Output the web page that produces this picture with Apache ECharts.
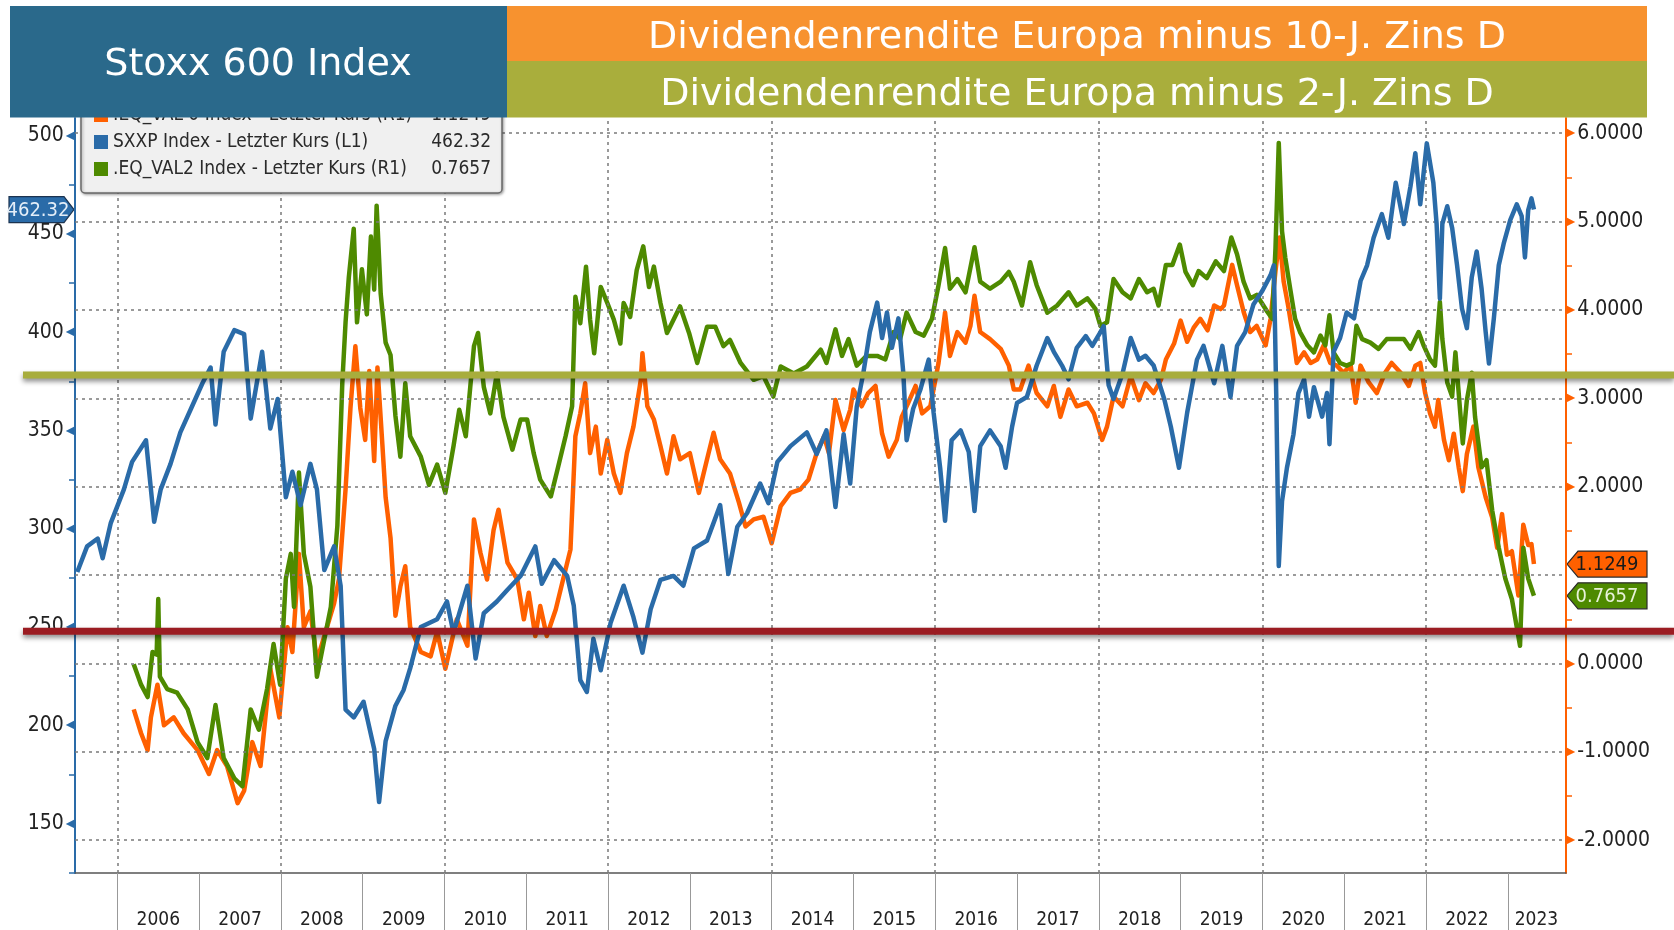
<!DOCTYPE html>
<html>
<head>
<meta charset="utf-8">
<title>Stoxx 600 Index - Dividendenrendite Europa</title>
<script src="https://cdn.jsdelivr.net/npm/echarts@6/dist/echarts.min.js"></script>
<style>
  html, body { margin: 0; padding: 0; background: #fff; }
  #chart { width: 1674px; height: 930px; }
</style>
</head>
<body>
<div id="chart"></div>
<script>
// SXXP Index (left axis), [decimal year, value]
var sxxp = [
  [2005.51,278],[2005.63,291],[2005.76,295],[2005.82,285],[2005.92,303],
  [2006.08,320],[2006.18,334],[2006.35,345],[2006.45,303.5],[2006.53,320],[2006.65,333],[2006.77,349],[2006.90,361],
  [2007.04,374],[2007.14,382],[2007.20,353],[2007.30,390],[2007.43,401],[2007.55,399],[2007.63,356],[2007.77,390],[2007.87,351],[2007.96,366],
  [2008.06,316],[2008.14,329],[2008.24,312],[2008.36,333],[2008.44,320],[2008.53,279],[2008.65,291],[2008.73,271],[2008.79,208],[2008.89,204],
  [2009.01,212],[2009.14,188],[2009.20,161],[2009.28,192],[2009.40,210],[2009.50,218],[2009.58,229],[2009.71,250],[2009.91,254],
  [2010.03,263],[2010.11,247],[2010.28,271],[2010.38,234],[2010.48,257],[2010.64,263],[2010.77,269],[2010.93,276],
  [2011.11,291],[2011.19,272],[2011.34,284],[2011.50,276],[2011.58,261],[2011.66,223],[2011.74,217],[2011.82,244],[2011.91,228],
  [2012.03,252],[2012.19,271],[2012.31,255],[2012.42,237],[2012.52,259],[2012.64,274],[2012.80,276],[2012.92,271],
  [2013.05,290],[2013.21,294],[2013.37,312],[2013.47,277],[2013.58,301],[2013.70,308],[2013.86,323],[2013.96,313],
  [2014.07,334],[2014.23,342],[2014.43,349],[2014.55,338],[2014.67,350],[2014.78,311],[2014.88,348],[2014.96,323],
  [2015.04,362],[2015.12,379],[2015.20,400],[2015.29,415],[2015.35,397],[2015.41,410],[2015.47,392],[2015.55,407],[2015.61,379],
  [2015.65,345],[2015.73,361],[2015.82,371],[2015.92,386],[2015.98,359],
  [2016.06,331],[2016.12,304],[2016.20,345],[2016.31,350],[2016.41,339],[2016.48,309],[2016.55,342],[2016.67,350],[2016.80,342],
  [2016.86,331],[2016.94,352],
  [2017.00,364],[2017.12,367],[2017.24,383],[2017.37,397],[2017.45,390],[2017.55,383],[2017.63,376],[2017.73,392],[2017.84,398],[2017.92,393],
  [2018.02,400],[2018.06,403],[2018.12,373],[2018.18,366],[2018.29,379],[2018.39,397],[2018.49,386],[2018.57,388],[2018.67,383],
  [2018.80,366],[2018.88,352],[2018.98,331],
  [2019.08,359],[2019.20,386],[2019.28,393],[2019.41,374],[2019.51,393],[2019.61,367],[2019.69,393],[2019.79,400],[2019.89,414],
  [2020.00,421],[2020.10,429],[2020.14,434],[2020.17,366],[2020.20,281],[2020.24,314],[2020.30,331],[2020.38,348],[2020.44,369],
  [2020.51,376],[2020.57,357],[2020.63,372],[2020.73,357],[2020.79,369],[2020.82,343],[2020.87,390],[2020.95,397],
  [2021.03,410],[2021.12,407],[2021.20,426],[2021.28,434],[2021.36,448],[2021.46,460],[2021.54,448],[2021.63,476],[2021.73,455],
  [2021.81,474],[2021.87,491],[2021.93,465],
  [2022.01,496],[2022.09,476],[2022.13,455],[2022.17,417],[2022.20,455],[2022.26,464],[2022.32,453],[2022.38,434],[2022.44,412],
  [2022.50,402],[2022.56,428],[2022.62,441],[2022.68,422],[2022.73,400],[2022.77,384],[2022.83,407],[2022.89,434],[2022.95,445],
  [2023.03,457],[2023.11,465],[2023.17,459],[2023.21,438],[2023.25,462],[2023.29,468],[2023.32,462.32]
];

// .EQ_VAL 0 Index (right axis): dividend yield minus 10y Bund
var val10 = [
  [2006.20,-0.52],[2006.29,-0.79],[2006.37,-0.98],[2006.41,-0.61],[2006.49,-0.24],[2006.57,-0.70],[2006.69,-0.61],[2006.81,-0.79],[2006.98,-0.98],
  [2007.12,-1.25],[2007.22,-0.98],[2007.34,-1.16],[2007.47,-1.58],[2007.55,-1.44],[2007.65,-0.89],[2007.75,-1.16],[2007.87,-0.06],[2007.98,-0.61],
  [2008.08,0.41],[2008.14,0.13],[2008.22,1.24],[2008.28,0.41],[2008.36,0.59],[2008.44,0.03],[2008.53,0.31],[2008.65,0.68],[2008.71,0.96],
  [2008.79,1.97],[2008.85,2.89],[2008.91,3.59],[2008.97,2.89],
  [2009.03,2.53],[2009.08,3.31],[2009.14,2.29],[2009.18,3.35],[2009.24,2.48],[2009.28,1.88],[2009.34,1.42],[2009.40,0.54],[2009.46,0.87],
  [2009.52,1.10],[2009.58,0.41],[2009.71,0.13],[2009.83,0.08],[2009.91,0.36],
  [2010.01,-0.06],[2010.15,0.50],[2010.28,0.20],[2010.36,1.63],[2010.44,1.25],[2010.52,0.95],[2010.60,1.51],[2010.66,1.74],[2010.77,1.14],
  [2010.89,0.95],[2010.97,0.50],
  [2011.03,0.80],[2011.11,0.31],[2011.17,0.65],[2011.25,0.31],[2011.36,0.61],[2011.46,0.99],[2011.54,1.29],[2011.60,2.57],[2011.66,2.83],
  [2011.72,3.17],[2011.78,2.38],[2011.85,2.68],[2011.91,2.15],[2011.99,2.53],
  [2012.07,2.15],[2012.15,1.93],[2012.23,2.38],[2012.31,2.68],[2012.40,3.21],[2012.42,3.51],[2012.48,2.91],[2012.56,2.76],[2012.64,2.46],
  [2012.72,2.15],[2012.80,2.57],[2012.88,2.31],
  [2013.00,2.38],[2013.11,1.93],[2013.21,2.31],[2013.29,2.61],[2013.37,2.31],[2013.49,2.15],[2013.60,1.82],[2013.68,1.55],[2013.78,1.63],[2013.90,1.66],
  [2014.00,1.36],[2014.11,1.78],[2014.23,1.93],[2014.35,1.97],[2014.45,2.08],[2014.55,2.38],[2014.64,2.57],[2014.70,2.38],[2014.78,2.98],
  [2014.88,2.64],[2014.96,2.87],
  [2015.00,3.10],[2015.10,2.91],[2015.18,3.06],[2015.27,3.14],[2015.35,2.60],[2015.43,2.34],[2015.53,2.53],[2015.59,2.79],[2015.67,2.95],
  [2015.76,3.14],[2015.84,2.83],[2015.94,2.91],
  [2016.04,3.40],[2016.12,3.97],[2016.18,3.48],[2016.27,3.75],[2016.37,3.63],[2016.43,3.82],[2016.48,4.16],[2016.55,3.75],[2016.67,3.67],
  [2016.80,3.56],[2016.90,3.37],[2016.96,3.10],
  [2017.04,3.10],[2017.14,3.37],[2017.24,3.06],[2017.37,2.91],[2017.45,3.14],[2017.53,2.79],[2017.63,3.10],[2017.73,2.91],[2017.86,2.95],[2017.94,2.83],
  [2018.04,2.53],[2018.10,2.68],[2018.18,3.02],[2018.29,2.91],[2018.39,3.25],[2018.49,2.98],[2018.57,3.17],[2018.67,3.06],[2018.76,3.21],
  [2018.82,3.44],[2018.92,3.62],
  [2019.00,3.88],[2019.08,3.64],[2019.16,3.80],[2019.24,3.90],[2019.33,3.77],[2019.41,4.05],[2019.49,4.01],[2019.53,4.05],[2019.63,4.51],
  [2019.69,4.28],[2019.77,3.98],[2019.85,3.75],[2019.93,3.82],
  [2020.04,3.60],[2020.10,3.90],[2020.16,4.44],[2020.21,4.82],[2020.26,4.32],[2020.32,4.02],[2020.38,3.67],[2020.42,3.40],[2020.51,3.52],
  [2020.59,3.40],[2020.67,3.44],[2020.75,3.60],[2020.83,3.40],[2020.91,3.37],[2020.99,3.29],
  [2021.08,3.37],[2021.14,2.95],[2021.20,3.37],[2021.30,3.18],[2021.40,3.06],[2021.50,3.29],[2021.58,3.40],[2021.69,3.29],[2021.79,3.14],
  [2021.87,3.37],[2021.93,3.40],[2021.99,3.06],
  [2022.05,2.83],[2022.11,2.68],[2022.15,2.98],[2022.22,2.53],[2022.28,2.30],[2022.34,2.60],[2022.40,2.22],[2022.45,1.95],[2022.50,2.37],
  [2022.58,2.68],[2022.64,2.22],[2022.73,1.88],[2022.81,1.65],[2022.87,1.31],[2022.93,1.69],[2022.99,1.23],
  [2023.05,1.27],[2023.13,0.77],[2023.19,1.57],[2023.25,1.34],[2023.29,1.35],[2023.32,1.1249]
];

// .EQ_VAL2 Index (right axis): dividend yield minus 2y Bund
var val2 = [
  [2006.20,-0.01],[2006.29,-0.24],[2006.37,-0.38],[2006.43,0.13],[2006.48,0.10],[2006.50,0.73],[2006.52,-0.15],[2006.61,-0.29],
  [2006.73,-0.33],[2006.86,-0.52],[2006.98,-0.89],
  [2007.10,-1.07],[2007.20,-0.47],[2007.30,-1.07],[2007.43,-1.30],[2007.53,-1.39],[2007.63,-0.52],[2007.73,-0.75],[2007.83,-0.29],
  [2007.91,0.22],[2007.99,-0.24],
  [2008.06,0.96],[2008.12,1.24],[2008.16,0.64],[2008.22,2.16],[2008.28,1.24],[2008.36,0.87],[2008.44,-0.15],[2008.53,0.27],[2008.61,0.64],
  [2008.69,1.56],[2008.75,3.17],[2008.79,3.86],[2008.83,4.37],[2008.89,4.92],[2008.93,3.86],[2008.99,4.46],
  [2009.05,3.95],[2009.10,4.83],[2009.14,4.23],[2009.17,5.18],[2009.22,4.18],[2009.28,3.63],[2009.34,3.49],[2009.40,2.80],[2009.46,2.34],
  [2009.52,3.17],[2009.58,2.57],[2009.71,2.34],[2009.81,2.02],[2009.91,2.25],
  [2010.01,1.93],[2010.11,2.46],[2010.18,2.87],[2010.26,2.57],[2010.36,3.59],[2010.41,3.74],[2010.48,3.13],[2010.56,2.83],[2010.64,3.28],
  [2010.72,2.79],[2010.83,2.42],[2010.93,2.76],
  [2011.01,2.76],[2011.09,2.38],[2011.17,2.08],[2011.30,1.89],[2011.38,2.19],[2011.48,2.57],[2011.56,2.91],[2011.60,4.15],[2011.66,3.85],
  [2011.73,4.49],[2011.78,3.89],[2011.83,3.51],[2011.91,4.26],[2011.99,4.08],
  [2012.07,3.89],[2012.15,3.62],[2012.19,4.08],[2012.27,3.92],[2012.35,4.45],[2012.43,4.72],[2012.50,4.26],[2012.56,4.49],[2012.64,4.08],
  [2012.72,3.74],[2012.80,3.89],[2012.88,4.04],[2012.99,3.74],
  [2013.09,3.40],[2013.21,3.81],[2013.31,3.81],[2013.41,3.59],[2013.49,3.66],[2013.62,3.40],[2013.78,3.21],[2013.90,3.25],
  [2014.02,3.02],[2014.11,3.36],[2014.27,3.28],[2014.43,3.36],[2014.60,3.55],[2014.67,3.40],[2014.78,3.78],[2014.86,3.48],[2014.94,3.67],
  [2015.04,3.37],[2015.16,3.48],[2015.29,3.48],[2015.39,3.44],[2015.49,3.75],[2015.57,3.67],[2015.65,3.97],[2015.76,3.75],[2015.86,3.71],[2015.96,3.90],
  [2016.04,4.28],[2016.12,4.70],[2016.18,4.24],[2016.27,4.35],[2016.37,4.20],[2016.48,4.71],[2016.55,4.32],[2016.67,4.24],[2016.80,4.32],
  [2016.90,4.43],[2016.96,4.32],
  [2017.06,4.05],[2017.16,4.54],[2017.24,4.28],[2017.37,3.97],[2017.49,4.05],[2017.63,4.20],[2017.73,4.05],[2017.86,4.13],[2017.96,4.01],
  [2018.02,3.82],[2018.10,3.86],[2018.18,4.35],[2018.29,4.20],[2018.39,4.13],[2018.49,4.35],[2018.59,4.20],[2018.67,4.24],[2018.73,4.05],
  [2018.82,4.51],[2018.90,4.51],[2018.99,4.74],
  [2019.06,4.43],[2019.15,4.28],[2019.22,4.44],[2019.32,4.36],[2019.43,4.55],[2019.53,4.44],[2019.62,4.82],[2019.69,4.63],[2019.77,4.32],
  [2019.85,4.13],[2019.93,4.17],
  [2020.06,3.98],[2020.12,3.90],[2020.16,4.70],[2020.20,5.89],[2020.24,4.89],[2020.28,4.59],[2020.34,4.24],[2020.40,3.90],[2020.46,3.75],
  [2020.55,3.60],[2020.63,3.52],[2020.71,3.71],[2020.77,3.60],[2020.82,3.94],[2020.87,3.52],[2020.95,3.40],
  [2021.03,3.37],[2021.10,3.40],[2021.15,3.82],[2021.22,3.67],[2021.32,3.63],[2021.42,3.56],[2021.52,3.67],[2021.65,3.67],[2021.73,3.67],
  [2021.81,3.56],[2021.91,3.75],[2021.97,3.60],
  [2022.05,3.44],[2022.11,3.37],[2022.17,4.09],[2022.20,3.67],[2022.26,3.18],[2022.32,3.02],[2022.36,3.52],[2022.42,2.83],[2022.45,2.49],
  [2022.50,2.98],[2022.56,3.29],[2022.60,2.79],[2022.68,2.22],[2022.74,2.30],[2022.81,1.73],[2022.89,1.31],[2022.97,0.96],
  [2023.05,0.73],[2023.15,0.20],[2023.19,1.31],[2023.25,0.96],[2023.32,0.7657]
];

var seriesNames = [
  '.EQ_VAL 0 Index - Letzter Kurs (R1)',
  'SXXP Index - Letzter Kurs (L1)',
  '.EQ_VAL2 Index - Letzter Kurs (R1)'
];
var lastValues = ['1.1249', '462.32', '0.7657'];
var colors = ['#FF6000', '#2A6BA8', '#4E8A00'];

var leftTicks = [150, 200, 250, 300, 350, 400, 450, 500];
var leftMinor = [125, 175, 225, 275, 325, 375, 425, 475];
var rightTicks = [-2, -1, 0, 1, 2, 3, 4, 5, 6];
var rightMinor = [-1.5, -0.5, 0.5, 1.5, 2.5, 3.5, 4.5, 5.5];
var yearTicks = [2006, 2007, 2008, 2009, 2010, 2011, 2012, 2013, 2014, 2015, 2016, 2017, 2018, 2019, 2020, 2021, 2022, 2023];
var yearLabels = [2006.5, 2007.5, 2008.5, 2009.5, 2010.5, 2011.5, 2012.5, 2013.5, 2014.5, 2015.5, 2016.5, 2017.5, 2018.5,
                  2019.5, 2020.5, 2021.5, 2022.5, 2023.35];
var gridYears = [2006, 2008, 2010, 2012, 2014, 2016, 2018, 2020, 2022];

// annotation levels (right axis)
var oliveLevel = 3.265;
var redLevel = 0.365;

var narrow = "'Liberation Sans Narrow', 'DejaVu Sans Condensed', sans-serif";
var wide = "'DejaVu Sans', Verdana, sans-serif";

// right axis labels that sit under the last-value tags are hidden, like the terminal does
var rightLabelValues = rightTicks.filter(function (v) {
  return Math.abs(v - parseFloat(lastValues[0])) > 0.3 && Math.abs(v - parseFloat(lastValues[2])) > 0.3;
});

var myChart = echarts.init(document.getElementById('chart'));

var gridMarks = [];
rightTicks.forEach(function (v) { gridMarks.push({ yAxis: v }); });
gridYears.forEach(function (v) { gridMarks.push({ xAxis: v }); });

function lineSeries(i, data, axis, z) {
  return {
    name: seriesNames[i],
    type: 'line',
    yAxisIndex: axis,
    data: data,
    showSymbol: false,
    symbol: 'none',
    color: colors[i],
    lineStyle: { width: 4.5, color: colors[i], join: 'round' },
    z: z,
    animation: false
  };
}

var option = {
  backgroundColor: '#fff',
  animation: false,
  grid: { left: 75, right: 108, top: 118, bottom: 57, containLabel: false, outerBoundsMode: 'none' },
  legend: {
    orient: 'vertical',
    left: 81,
    top: 95,
    data: seriesNames,
    selectedMode: false,
    icon: 'rect',
    itemWidth: 14,
    itemHeight: 14,
    itemGap: 7,
    padding: [10, 11, 14, 13],
    backgroundColor: '#f0f0f0',
    borderColor: '#6a6a6a',
    borderWidth: 1.5,
    borderRadius: 4,
    shadowBlur: 3,
    shadowColor: 'rgba(0,0,0,0.35)',
    shadowOffsetX: 1,
    shadowOffsetY: 1,
    z: 10,
    textStyle: {
      fontFamily: narrow, fontSize: 19, color: '#2a2a2a', lineHeight: 20,
      rich: {
        n: { fontFamily: narrow, fontSize: 19, color: '#2a2a2a', width: 305 },
        v: { fontFamily: narrow, fontSize: 19, color: '#2a2a2a', width: 73, align: 'right' }
      }
    },
    formatter: function (name) {
      return '{n|' + name + '}{v|' + lastValues[seriesNames.indexOf(name)] + '}';
    }
  },
  xAxis: {
    type: 'value',
    min: 2005.482,
    max: 2023.712,
    axisLine: { onZero: false, lineStyle: { color: '#555', width: 1.5 } },
    axisTick: { customValues: yearTicks, length: 57, lineStyle: { color: '#999', width: 1 } },
    axisLabel: {
      customValues: yearLabels,
      margin: 38,
      fontFamily: narrow,
      fontSize: 19,
      color: '#222',
      formatter: function (v) { return String(Math.floor(v)); }
    },
    splitLine: { show: false }
  },
  yAxis: [
    {
      type: 'value',
      position: 'left',
      min: 124.9,
      max: 508.9,
      axisLine: { show: true, onZero: false, lineStyle: { color: '#2A6BA8', width: 2 } },
      axisTick: { customValues: leftMinor, length: 6, lineStyle: { color: '#2A6BA8', width: 1.5 } },
      axisLabel: {
        customValues: leftTicks,
        margin: 0,
        formatter: function (v) { return '{v|' + v + '}{t|\u25C0}'; },
        rich: {
          v: { fontFamily: narrow, fontSize: 21, color: '#222', padding: [0, 2, 0, 0] },
          t: { fontFamily: wide, fontSize: 12, color: '#2A6BA8' }
        }
      },
      splitLine: { show: false }
    },
    {
      type: 'value',
      position: 'right',
      min: -2.371,
      max: 6.172,
      axisLine: { show: true, onZero: false, lineStyle: { color: '#FF6000', width: 2 } },
      axisTick: { customValues: rightMinor, length: 6, lineStyle: { color: '#FF6000', width: 1.5 } },
      axisLabel: {
        customValues: rightLabelValues,
        margin: 0,
        formatter: function (v) { return '{t|\u25B6}{v|' + v.toFixed(4) + '}'; },
        rich: {
          v: { fontFamily: narrow, fontSize: 21, color: '#222', padding: [0, 0, 0, 2] },
          t: { fontFamily: wide, fontSize: 12, color: '#FF6000' }
        }
      },
      splitLine: { show: false }
    }
  ],
  series: [
    {
      name: 'grid',
      type: 'line',
      yAxisIndex: 1,
      data: [],
      z: 1,
      silent: true,
      markLine: {
        silent: true,
        symbol: 'none',
        animation: false,
        label: { show: false },
        lineStyle: { type: [3, 4], color: '#7a7a7a', width: 1.5 },
        data: gridMarks
      }
    },
    lineSeries(0, val10, 1, 3),
    lineSeries(2, val2, 1, 4),
    lineSeries(1, sxxp, 0, 5)
  ]
};

myChart.setOption(option);

// overlays: title boxes, annotation lines, last-value tags
var yOlive = myChart.convertToPixel({ yAxisIndex: 1 }, oliveLevel);
var yRed = myChart.convertToPixel({ yAxisIndex: 1 }, redLevel);
var ySx = myChart.convertToPixel({ yAxisIndex: 0 }, parseFloat(lastValues[1]));
var y10 = myChart.convertToPixel({ yAxisIndex: 1 }, parseFloat(lastValues[0]));
var y2 = myChart.convertToPixel({ yAxisIndex: 1 }, parseFloat(lastValues[2]));

function hLine(y, color) {
  return {
    type: 'rect', z: 60,
    shape: { x: 23, y: y - 3.5, width: 1651, height: 7 },
    style: { fill: color, shadowBlur: 5, shadowOffsetY: 3, shadowColor: 'rgba(0,0,0,0.45)' }
  };
}

function rightTag(y, text, fill, textColor) {
  return {
    type: 'group', z: 70,
    children: [
      {
        type: 'polygon',
        shape: { points: [[1567, y], [1578, y - 13], [1647, y - 13], [1647, y + 13], [1578, y + 13]] },
        style: { fill: fill, stroke: '#2b2b2b', lineWidth: 1.2 }
      },
      {
        type: 'text', x: 1607, y: y + 1,
        style: { text: text, fill: textColor, font: '20px ' + narrow, align: 'center', verticalAlign: 'middle' }
      }
    ]
  };
}

myChart.setOption({
  graphic: [
    hLine(yOlive, '#A8AD3D'),
    hLine(yRed, '#9B1C22'),
    {
      type: 'group', z: 70,
      children: [
        {
          type: 'polygon',
          shape: { points: [[9, ySx - 13], [64, ySx - 13], [74, ySx], [64, ySx + 13], [9, ySx + 13]] },
          style: { fill: '#2A6BA8', stroke: '#1b3350', lineWidth: 1.2 }
        },
        {
          type: 'text', x: 38, y: ySx + 1,
          style: { text: lastValues[1], fill: '#e4eef8', font: '20px ' + narrow, align: 'center', verticalAlign: 'middle' }
        }
      ]
    },
    rightTag(y10, lastValues[0], '#FF6000', '#1a1a1a'),
    rightTag(y2, lastValues[2], '#4E8A00', '#e8f2d8'),
    {
      type: 'rect', z: 100,
      shape: { x: 10, y: 6, width: 497, height: 111.5 },
      style: { fill: '#2A698B' }
    },
    {
      type: 'text', z: 101, x: 258, y: 65,
      style: { text: 'Stoxx 600 Index', fill: '#fff', font: '38px ' + wide, align: 'center', verticalAlign: 'middle' }
    },
    {
      type: 'rect', z: 100,
      shape: { x: 507, y: 6, width: 1140, height: 55 },
      style: { fill: '#F7922F' }
    },
    {
      type: 'text', z: 101, x: 1077, y: 38,
      style: { text: 'Dividendenrendite Europa minus 10-J. Zins D', fill: '#fff', font: '38px ' + wide, align: 'center', verticalAlign: 'middle' }
    },
    {
      type: 'rect', z: 100,
      shape: { x: 507, y: 61, width: 1140, height: 56.5 },
      style: { fill: '#A9AE3C' }
    },
    {
      type: 'text', z: 101, x: 1077, y: 95,
      style: { text: 'Dividendenrendite Europa minus 2-J. Zins D', fill: '#fff', font: '38px ' + wide, align: 'center', verticalAlign: 'middle' }
    }
  ]
});
</script>
</body>
</html>
